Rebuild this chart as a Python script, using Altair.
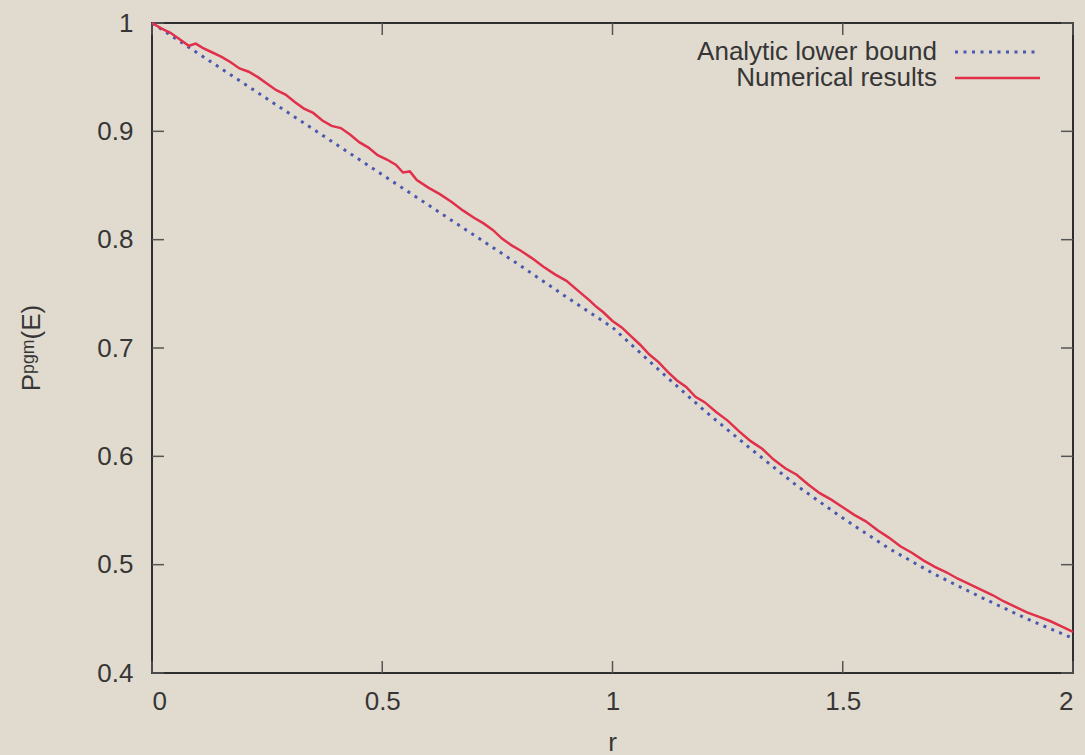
import altair as alt
import pandas as pd

# ---- data ----
r_bound = [0.0, 0.1, 0.2, 0.3, 0.4, 0.5, 0.6, 0.7, 0.8, 0.9, 1.0,
           1.1, 1.2, 1.3, 1.4, 1.5, 1.6, 1.7, 1.8, 1.9, 2.0]
p_bound = [1.000, 0.972, 0.944, 0.916, 0.888, 0.860, 0.832, 0.804, 0.776, 0.747, 0.719,
           0.680, 0.642, 0.607, 0.573, 0.543, 0.515, 0.491, 0.470, 0.450, 0.432]

r_num = [0.000, 0.020, 0.040, 0.060, 0.080, 0.095, 0.110, 0.130, 0.150, 0.170,
         0.190, 0.210, 0.230, 0.250, 0.270, 0.290, 0.310, 0.330, 0.350, 0.370,
         0.390, 0.410, 0.430, 0.450, 0.470, 0.490, 0.510, 0.530, 0.545, 0.560,
         0.575, 0.600, 0.625, 0.650, 0.675, 0.700, 0.720, 0.740, 0.760, 0.780,
         0.800, 0.825, 0.850, 0.875, 0.900, 0.925, 0.950, 0.965, 0.980, 1.000,
         1.020, 1.040, 1.060, 1.080, 1.100, 1.120, 1.140, 1.160, 1.180, 1.200,
         1.225, 1.250, 1.275, 1.300, 1.325, 1.350, 1.375, 1.400, 1.425, 1.450,
         1.475, 1.500, 1.525, 1.550, 1.575, 1.600, 1.625, 1.650, 1.675, 1.700,
         1.725, 1.750, 1.775, 1.800, 1.825, 1.850, 1.875, 1.900, 1.925, 1.950,
         1.975, 2.000]
p_num = [1.000, 0.995, 0.991, 0.985, 0.979, 0.981, 0.977, 0.973, 0.969, 0.964,
         0.958, 0.955, 0.950, 0.944, 0.938, 0.934, 0.927, 0.921, 0.917, 0.910,
         0.905, 0.903, 0.897, 0.890, 0.885, 0.878, 0.874, 0.869, 0.862, 0.863,
         0.855, 0.848, 0.842, 0.835, 0.827, 0.820, 0.815, 0.809, 0.801, 0.795,
         0.790, 0.783, 0.775, 0.768, 0.762, 0.753, 0.744, 0.738, 0.733, 0.725,
         0.719, 0.711, 0.703, 0.694, 0.687, 0.678, 0.670, 0.664, 0.655, 0.650,
         0.641, 0.633, 0.623, 0.614, 0.607, 0.597, 0.589, 0.583, 0.574, 0.566,
         0.560, 0.553, 0.546, 0.540, 0.532, 0.525, 0.517, 0.511, 0.504, 0.498,
         0.493, 0.487, 0.482, 0.477, 0.472, 0.466, 0.461, 0.456, 0.452, 0.448,
         0.443, 0.438]

x_ticks = [0, 0.5, 1, 1.5, 2]
y_ticks = [0.4, 0.5, 0.6, 0.7, 0.8, 0.9, 1.0]
legend_labels = ["Analytic lower bound", "Numerical results"]
x_title = "r"
y_title = "Pᵖᵍᵐ(E)"

# ---- styling ----
W, H = 921, 650
BG = "#e1dbcf"
FONT = "Liberation Sans"
FS = 26
TXT = "#363636"
BLUE = "#4b58b0"
RED = "#e0304a"
TICK = "#555555"

xs = alt.Scale(domain=[0, 2], nice=False, zero=False)
ys = alt.Scale(domain=[0.4, 1.0], nice=False, zero=False)

df_b = pd.DataFrame({"r": r_bound, "p": p_bound})
df_n = pd.DataFrame({"r": r_num, "p": p_num})
df_xt = pd.DataFrame({"t": x_ticks})
df_yt = pd.DataFrame({"t": y_ticks})

xaxis = alt.Axis(values=x_ticks, format=".1~f", title=None, grid=False, domain=False,
                 ticks=False, tickSize=0, labelPadding=15, labelFont=FONT,
                 labelFontSize=FS, labelColor=TXT)
yaxis = alt.Axis(values=y_ticks, format=".1~f", title=None, grid=False, domain=False,
                 ticks=False, tickSize=0, labelPadding=19, labelFont=FONT,
                 labelFontSize=FS, labelColor=TXT)

base_axes = alt.Chart(df_yt).mark_point(opacity=0).encode(
    x=alt.X("t:Q", scale=xs, axis=xaxis),
    y=alt.Y("t:Q", scale=ys, axis=yaxis),
)

TL = 12
tick_left = alt.Chart(df_yt).mark_rule(color=TICK, strokeWidth=1.5).encode(
    y=alt.Y("t:Q", scale=ys), x=alt.value(0), x2=alt.value(TL))
tick_right = alt.Chart(df_yt).mark_rule(color=TICK, strokeWidth=1.5).encode(
    y=alt.Y("t:Q", scale=ys), x=alt.value(W - TL), x2=alt.value(W))
tick_bot = alt.Chart(df_xt).mark_rule(color=TICK, strokeWidth=1.5).encode(
    x=alt.X("t:Q", scale=xs), y=alt.value(H - TL), y2=alt.value(H))
tick_top = alt.Chart(df_xt).mark_rule(color=TICK, strokeWidth=1.5).encode(
    x=alt.X("t:Q", scale=xs), y=alt.value(0), y2=alt.value(TL))

line_b = alt.Chart(df_b).mark_line(color=BLUE, strokeWidth=3, strokeDash=[3, 5.5],
                                   strokeCap="butt").encode(
    x=alt.X("r:Q", scale=xs), y=alt.Y("p:Q", scale=ys))
line_n = alt.Chart(df_n).mark_line(color=RED, strokeWidth=2.5).encode(
    x=alt.X("r:Q", scale=xs), y=alt.Y("p:Q", scale=ys))

# legend (gnuplot style: text right-aligned, sample on the right)
one = pd.DataFrame({"k": [0]})
leg_t1 = alt.Chart(pd.DataFrame({"s": [legend_labels[0]]})).mark_text(
    align="right", baseline="middle", font=FONT, fontSize=FS, color=TXT).encode(
    text="s:N", x=alt.value(785), y=alt.value(29))
leg_t2 = alt.Chart(pd.DataFrame({"s": [legend_labels[1]]})).mark_text(
    align="right", baseline="middle", font=FONT, fontSize=FS, color=TXT).encode(
    text="s:N", x=alt.value(785), y=alt.value(55))
leg_b = alt.Chart(one).mark_rule(
    color=BLUE, strokeWidth=3, strokeDash=[3, 5.5], strokeCap="butt").encode(
    x=alt.value(803), x2=alt.value(883), y=alt.value(29))
leg_n = alt.Chart(one).mark_rule(
    color=RED, strokeWidth=2.5).encode(
    x=alt.value(803), x2=alt.value(888), y=alt.value(55))

xt = alt.Chart(pd.DataFrame({"s": [x_title]})).mark_text(
    font=FONT, fontSize=FS, color=TXT, align="center", baseline="middle").encode(
    text="s:N", x=alt.value(W / 2), y=alt.value(720))
yt = alt.Chart(pd.DataFrame({"s": [y_title]})).mark_text(
    font=FONT, fontSize=FS, color=TXT, align="center", baseline="middle", angle=270).encode(
    text="s:N", x=alt.value(-120), y=alt.value(H / 2))

chart = alt.layer(
    base_axes, tick_left, tick_right, tick_bot, tick_top,
    line_b, line_n, leg_t1, leg_t2, leg_b, leg_n, xt, yt
).properties(
    width=W, height=H,
    autosize=alt.AutoSizeParams(type="none"),
    padding={"left": 152, "top": 23, "right": 12, "bottom": 82},
    background=BG,
).configure_view(stroke="#2e2e2e", strokeWidth=2)

chart.save("out.html", embed_options={"renderer": "svg", "actions": False})
